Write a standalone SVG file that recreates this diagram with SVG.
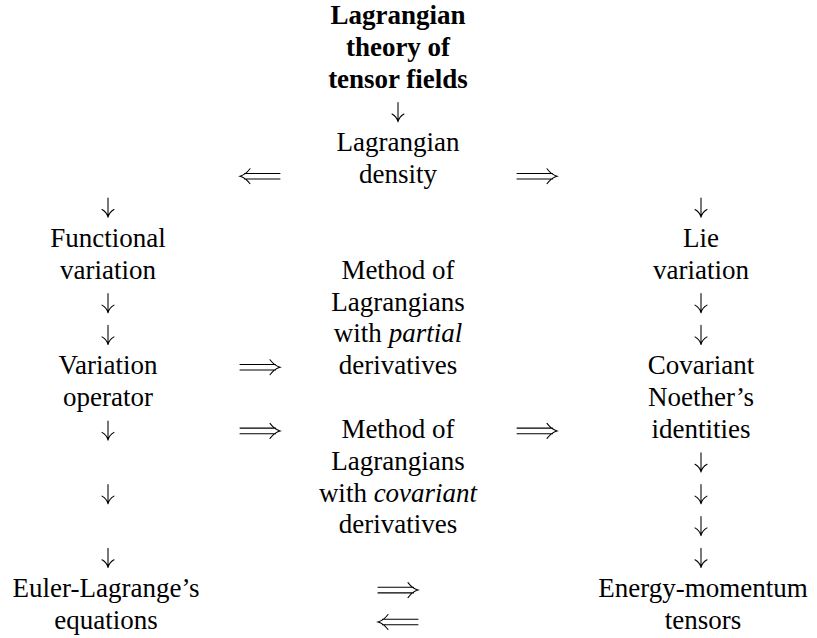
<svg xmlns="http://www.w3.org/2000/svg" xmlns:xlink="http://www.w3.org/1999/xlink" width="817" height="638" viewBox="0 0 817 638">
<defs>
<path id="dn" d="M0,-17V2.2M-6,-5.5C-2.5,-3.5 -0.8,-1.5 0,2.2C0.8,-1.5 2.5,-3.5 6,-5.5"/>
<path id="rr" d="M-20,-2.8H15.5M-20,2.8H15.5M10,-7.5C13,-3.5 16.5,-1 20,0C16.5,1 13,3.5 10,7.5"/>
</defs>
<rect width="817" height="638" fill="#fff"/>
<g id="title">
<text font-family="Liberation Serif" font-size="27" text-anchor="middle" font-weight="bold" x="398" y="24">Lagrangian</text>
<text font-family="Liberation Serif" font-size="27" text-anchor="middle" font-weight="bold" x="398" y="56">theory of</text>
<text font-family="Liberation Serif" font-size="27" text-anchor="middle" font-weight="bold" x="398" y="88">tensor fields</text>
</g>
<g id="density">
<text font-family="Liberation Serif" font-size="27" text-anchor="middle" x="398" y="151">Lagrangian</text>
<text font-family="Liberation Serif" font-size="27" text-anchor="middle" x="398" y="183">density</text>
</g>
<g id="functional-variation">
<text font-family="Liberation Serif" font-size="27" text-anchor="middle" x="108" y="247">Functional</text>
<text font-family="Liberation Serif" font-size="27" text-anchor="middle" x="108" y="279">variation</text>
</g>
<g id="variation-operator">
<text font-family="Liberation Serif" font-size="27" text-anchor="middle" x="108" y="374">Variation</text>
<text font-family="Liberation Serif" font-size="27" text-anchor="middle" x="108" y="406">operator</text>
</g>
<g id="euler-lagrange">
<text font-family="Liberation Serif" font-size="27" text-anchor="middle" x="106" y="597">Euler-Lagrange’s</text>
<text font-family="Liberation Serif" font-size="27" text-anchor="middle" x="106" y="629">equations</text>
</g>
<g id="partial-method">
<text font-family="Liberation Serif" font-size="27" text-anchor="middle" x="398" y="279">Method of</text>
<text font-family="Liberation Serif" font-size="27" text-anchor="middle" x="398" y="311">Lagrangians</text>
<text font-family="Liberation Serif" font-size="27" text-anchor="middle" x="398" y="342">with <tspan font-style="italic">partial</tspan></text>
<text font-family="Liberation Serif" font-size="27" text-anchor="middle" x="398" y="374">derivatives</text>
</g>
<g id="covariant-method">
<text font-family="Liberation Serif" font-size="27" text-anchor="middle" x="398" y="438">Method of</text>
<text font-family="Liberation Serif" font-size="27" text-anchor="middle" x="398" y="470">Lagrangians</text>
<text font-family="Liberation Serif" font-size="27" text-anchor="middle" x="398" y="502">with <tspan font-style="italic">covariant</tspan></text>
<text font-family="Liberation Serif" font-size="27" text-anchor="middle" x="398" y="533">derivatives</text>
</g>
<g id="lie-variation">
<text font-family="Liberation Serif" font-size="27" text-anchor="middle" x="701" y="247">Lie</text>
<text font-family="Liberation Serif" font-size="27" text-anchor="middle" x="701" y="279">variation</text>
</g>
<g id="noether-identities">
<text font-family="Liberation Serif" font-size="27" text-anchor="middle" x="701" y="374">Covariant</text>
<text font-family="Liberation Serif" font-size="27" text-anchor="middle" x="701" y="406">Noether’s</text>
<text font-family="Liberation Serif" font-size="27" text-anchor="middle" x="701" y="438">identities</text>
</g>
<g id="energy-momentum">
<text font-family="Liberation Serif" font-size="27" text-anchor="middle" x="703" y="597">Energy-momentum</text>
<text font-family="Liberation Serif" font-size="27" text-anchor="middle" x="703" y="629">tensors</text>
</g>
<g id="connectors" fill="none" stroke="#000" stroke-width="1.05" stroke-linecap="round">
<use xlink:href="#dn" transform="translate(398,119.5)"/>
<use xlink:href="#dn" transform="translate(108,215)"/>
<use xlink:href="#dn" transform="translate(108,310.6)"/>
<use xlink:href="#dn" transform="translate(108,342.4)"/>
<use xlink:href="#dn" transform="translate(108,437.9)"/>
<use xlink:href="#dn" transform="translate(108,501.6)"/>
<use xlink:href="#dn" transform="translate(108,565.3)"/>
<use xlink:href="#dn" transform="translate(701,215)"/>
<use xlink:href="#dn" transform="translate(701,310.6)"/>
<use xlink:href="#dn" transform="translate(701,342.4)"/>
<use xlink:href="#dn" transform="translate(701,469.8)"/>
<use xlink:href="#dn" transform="translate(701,501.6)"/>
<use xlink:href="#dn" transform="translate(701,533.4)"/>
<use xlink:href="#dn" transform="translate(701,565.3)"/>
<use xlink:href="#rr" transform="translate(260,176.2) scale(-1,1)"/>
<use xlink:href="#rr" transform="translate(537,176.2)"/>
<use xlink:href="#rr" transform="translate(260,367.2)"/>
<use xlink:href="#rr" transform="translate(260,430.9)"/>
<use xlink:href="#rr" transform="translate(537,430.9)"/>
<use xlink:href="#rr" transform="translate(398,590.1)"/>
<use xlink:href="#rr" transform="translate(398,622) scale(-1,1)"/>
</g>
</svg>
